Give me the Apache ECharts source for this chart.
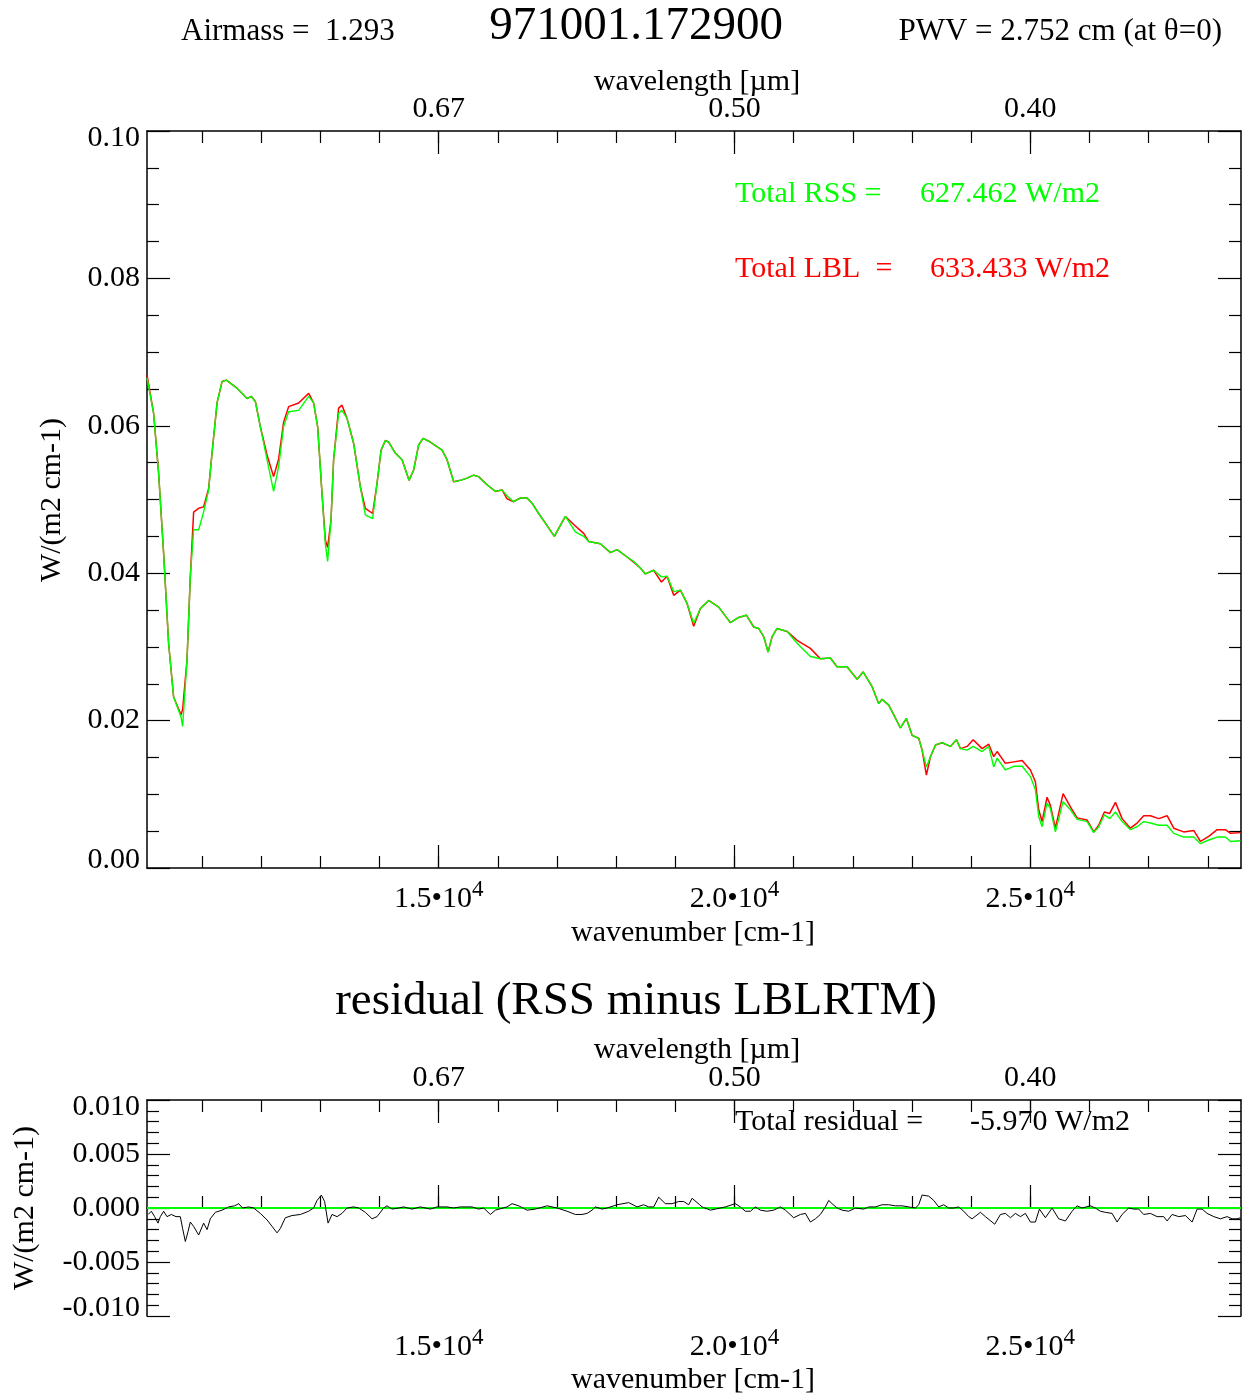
<!DOCTYPE html>
<html>
<head>
<meta charset="utf-8">
<script src="https://cdn.jsdelivr.net/npm/echarts@6/dist/echarts.min.js"></script>
<style>
html,body{margin:0;padding:0;background:#fff;}
#chart{width:1243px;height:1395px;}
</style>
</head>
<body>
<div id="chart"></div>
<script>
// ---------- DATA ----------
const wavenumber = [10070,10182,10266,10351,10435,10520,10645,10672,10746,10802,10858,10943,11027,11112,11169,11254,11338,11411,11592,11761,11833,11901,11985,12099,12210,12295,12379,12464,12633,12802,12886,12954,13028,13084,13123,13180,13224,13309,13366,13451,13563,13676,13760,13884,13958,14026,14098,14154,14267,14381,14499,14577,14661,14736,14859,15057,15141,15253,15366,15479,15591,15675,15817,15958,16071,16155,16267,16380,16494,16578,16690,16803,16955,17056,17141,17310,17450,17535,17733,17902,18015,18184,18295,18408,18493,18634,18764,18860,18972,19085,19198,19310,19423,19563,19732,19930,20070,20200,20324,20408,20493,20567,20635,20719,20888,21057,21282,21451,21620,21733,21902,22071,22173,22325,22437,22494,22606,22690,22804,22905,23001,23113,23170,23243,23311,23396,23509,23649,23751,23818,23931,24033,24185,24297,24381,24438,24578,24719,24861,25001,25085,25141,25198,25282,25338,25423,25553,25677,25790,25959,26071,26155,26251,26341,26438,26551,26691,26804,26916,27029,27170,27311,27423,27592,27761,27875,28015,28157,28297,28382,28550];
const rssValues = [0.0665,0.0617,0.0536,0.0427,0.0305,0.0232,0.0205,0.0192,0.0282,0.0395,0.0459,0.0459,0.0483,0.0513,0.0563,0.0631,0.0660,0.0662,0.0651,0.0637,0.0640,0.0633,0.0599,0.0554,0.0511,0.0545,0.0599,0.0619,0.0621,0.0640,0.0631,0.0599,0.0508,0.0440,0.0416,0.0472,0.0554,0.0617,0.0621,0.0610,0.0576,0.0517,0.0479,0.0474,0.0522,0.0567,0.0580,0.0578,0.0563,0.0554,0.0526,0.0540,0.0574,0.0583,0.0578,0.0567,0.0554,0.0524,0.0526,0.0529,0.0533,0.0531,0.0520,0.0511,0.0513,0.0505,0.0497,0.0502,0.0502,0.0495,0.0481,0.0468,0.0450,0.0465,0.0477,0.0456,0.0450,0.0443,0.0440,0.0428,0.0432,0.0422,0.0416,0.0407,0.0399,0.0404,0.0395,0.0396,0.0375,0.0377,0.0359,0.0332,0.0352,0.0363,0.0354,0.0333,0.0340,0.0343,0.0327,0.0325,0.0314,0.0293,0.0314,0.0325,0.0321,0.0305,0.0287,0.0284,0.0285,0.0273,0.0273,0.0256,0.0266,0.0246,0.0223,0.0229,0.0221,0.0208,0.0190,0.0203,0.0180,0.0176,0.0160,0.0137,0.0151,0.0167,0.0170,0.0165,0.0174,0.0162,0.0160,0.0165,0.0158,0.0165,0.0137,0.0149,0.0133,0.0138,0.0138,0.0124,0.0106,0.0070,0.0056,0.0088,0.0081,0.0049,0.0090,0.0079,0.0066,0.0063,0.0048,0.0056,0.0072,0.0067,0.0076,0.0063,0.0052,0.0056,0.0063,0.0061,0.0058,0.0058,0.0047,0.0042,0.0042,0.0033,0.0038,0.0042,0.0042,0.0036,0.0037];
const lblValues = [0.0669,0.0617,0.0536,0.0427,0.0305,0.0232,0.0208,0.0215,0.0282,0.0395,0.0483,0.0488,0.0490,0.0515,0.0563,0.0631,0.0660,0.0662,0.0651,0.0637,0.0640,0.0633,0.0599,0.0560,0.0531,0.0555,0.0605,0.0626,0.0631,0.0644,0.0631,0.0599,0.0508,0.0445,0.0435,0.0472,0.0554,0.0624,0.0628,0.0610,0.0576,0.0517,0.0488,0.0481,0.0522,0.0567,0.0580,0.0578,0.0563,0.0554,0.0526,0.0540,0.0574,0.0583,0.0578,0.0567,0.0554,0.0524,0.0526,0.0529,0.0533,0.0531,0.0520,0.0511,0.0513,0.0501,0.0497,0.0502,0.0502,0.0495,0.0481,0.0468,0.0450,0.0465,0.0477,0.0464,0.0454,0.0443,0.0440,0.0428,0.0432,0.0422,0.0415,0.0407,0.0399,0.0404,0.0388,0.0396,0.0370,0.0377,0.0359,0.0328,0.0352,0.0363,0.0354,0.0333,0.0340,0.0343,0.0327,0.0325,0.0314,0.0293,0.0314,0.0325,0.0321,0.0309,0.0298,0.0284,0.0285,0.0273,0.0273,0.0256,0.0266,0.0246,0.0223,0.0229,0.0221,0.0208,0.0190,0.0203,0.0180,0.0176,0.0160,0.0126,0.0151,0.0167,0.0170,0.0165,0.0174,0.0162,0.0165,0.0174,0.0162,0.0168,0.0151,0.0158,0.0142,0.0144,0.0146,0.0133,0.0117,0.0079,0.0063,0.0096,0.0085,0.0054,0.0101,0.0083,0.0068,0.0065,0.0049,0.0058,0.0076,0.0074,0.0089,0.0067,0.0054,0.0061,0.0071,0.0071,0.0067,0.0071,0.0054,0.0049,0.0051,0.0036,0.0043,0.0052,0.0052,0.0047,0.0048];
const residualWavenumber = [10090,10143,10199,10256,10295,10351,10408,10481,10560,10633,10672,10718,10763,10802,10858,10943,11027,11085,11140,11225,11338,11450,11551,11619,11687,11788,11873,11985,12099,12183,12268,12323,12408,12521,12662,12802,12886,12944,13017,13072,13130,13197,13282,13366,13451,13563,13647,13760,13874,13958,14070,14127,14212,14323,14408,14550,14690,14859,14972,15141,15253,15366,15564,15675,15760,15873,15958,16155,16240,16352,16494,16634,16832,17001,17170,17310,17423,17508,17592,17648,17761,17846,18015,18211,18353,18464,18549,18634,18718,18831,18944,19056,19141,19225,19283,19411,19452,19592,19677,19845,20014,20099,20183,20268,20352,20437,20550,20662,20775,20860,21000,21113,21198,21282,21367,21451,21536,21592,21649,21733,21818,21930,22043,22183,22268,22381,22494,22606,22719,22832,22944,23057,23113,23170,23282,23367,23451,23536,23620,23705,23789,23874,23958,24015,24156,24240,24398,24494,24578,24663,24747,24832,24916,25001,25085,25153,25254,25367,25479,25592,25705,25789,25874,26015,26099,26184,26268,26381,26466,26550,26663,26747,26832,26916,27029,27142,27254,27311,27396,27508,27621,27734,27818,27903,27987,28100,28213,28325,28410,28494,28550];
const residualValues = [-0.0006,-0.0003,-0.0008,-0.0014,-0.0008,-0.0003,-0.0008,-0.0006,-0.0008,-0.0008,-0.0019,-0.0031,-0.0022,-0.0013,-0.0017,-0.0025,-0.0014,-0.0020,-0.0010,-0.0004,-0.0002,0.0001,0.0002,0.0004,0.0000,0.0001,0.0000,-0.0005,-0.0011,-0.0017,-0.0023,-0.0019,-0.0009,-0.0007,-0.0006,-0.0003,0.0000,0.0007,0.0012,0.0006,-0.0014,-0.0006,-0.0008,-0.0005,0.0000,0.0001,0.0000,-0.0004,-0.0010,-0.0008,0.0000,0.0002,-0.0001,0.0000,0.0001,-0.0001,0.0001,-0.0001,0.0001,0.0001,0.0000,0.0001,0.0001,-0.0001,0.0000,-0.0006,-0.0002,0.0001,0.0004,0.0002,-0.0002,-0.0001,0.0002,0.0000,-0.0003,-0.0006,-0.0006,-0.0005,-0.0002,0.0001,-0.0001,0.0000,0.0003,0.0005,0.0001,0.0003,0.0001,0.0001,0.0010,0.0004,0.0004,0.0006,0.0006,0.0003,0.0009,0.0003,0.0001,-0.0002,-0.0001,0.0001,0.0004,0.0001,-0.0003,-0.0003,0.0001,-0.0002,-0.0003,-0.0002,0.0001,-0.0002,-0.0009,-0.0006,-0.0005,-0.0013,-0.0010,-0.0006,0.0001,0.0007,0.0004,0.0000,-0.0002,-0.0003,0.0000,-0.0001,0.0001,0.0001,0.0003,0.0003,0.0002,0.0002,0.0001,0.0000,0.0003,0.0012,0.0011,0.0007,0.0001,0.0003,0.0000,0.0000,0.0001,-0.0003,-0.0008,-0.0010,-0.0004,-0.0008,-0.0015,-0.0006,-0.0005,-0.0009,-0.0005,-0.0008,-0.0005,-0.0013,-0.0013,-0.0001,-0.0009,0.0000,-0.0010,-0.0012,-0.0003,0.0002,0.0000,0.0002,0.0000,-0.0003,-0.0004,-0.0005,-0.0013,-0.0006,0.0000,-0.0001,-0.0001,-0.0006,-0.0005,-0.0008,-0.0008,-0.0012,-0.0006,-0.0008,-0.0007,-0.0013,-0.0001,-0.0001,-0.0005,-0.0008,-0.0010,-0.0008,-0.0010,-0.0010,-0.0009];
const minorTickValues = [11000,12000,13000,14000,15000,16000,17000,18000,19000,20000,21000,22000,23000,24000,25000,26000,27000,28000];
const majorTickValues = [15000,20000,25000];
const xRange = [10070, 28560];
const totalRSS = '627.462 W/m2';
const totalLBL = '633.433 W/m2';
const totalResidual = '-5.970 W/m2';

// ---------- CHART ----------
const FONT = 'Liberation Serif';
const chart = echarts.init(document.getElementById('chart'), null, {renderer: 'canvas'});

const axisLineStyle = {show: true, lineStyle: {color: '#000', width: 1.5}};

function xAxesFor(gridIndex) {
  const base = {gridIndex, type: 'value', min: xRange[0], max: xRange[1], splitLine: {show: false}};
  return [
    Object.assign({}, base, {
      position: 'bottom', axisLine: axisLineStyle,
      axisTick: {show: true, inside: true, length: 12, customValues: minorTickValues, lineStyle: {color: '#000', width: 1.2}},
      axisLabel: {
        show: true, customValues: majorTickValues, margin: 10,
        formatter: v => '{m|' + (v / 1e4).toFixed(1) + '•10}{s|4}',
        rich: {
          m: {fontFamily: FONT, fontSize: 30, color: '#000'},
          s: {fontFamily: FONT, fontSize: 23, color: '#000', padding: [0, 0, 20, 0]}
        }
      }
    }),
    Object.assign({}, base, {
      position: 'bottom', axisLine: {show: false},
      axisTick: {show: true, inside: true, length: 23, customValues: majorTickValues, lineStyle: {color: '#000', width: 1.2}},
      axisLabel: {show: false}
    }),
    Object.assign({}, base, {
      position: 'top', axisLine: axisLineStyle,
      axisTick: {show: true, inside: true, length: 12, customValues: minorTickValues, lineStyle: {color: '#000', width: 1.2}},
      axisLabel: {
        show: true, customValues: majorTickValues, margin: 7,
        fontFamily: FONT, fontSize: 30, color: '#000',
        formatter: v => (1e4 / v).toFixed(2)
      }
    }),
    Object.assign({}, base, {
      position: 'top', axisLine: {show: false},
      axisTick: {show: true, inside: true, length: 23, customValues: majorTickValues, lineStyle: {color: '#000', width: 1.2}},
      axisLabel: {show: false}
    })
  ];
}

function yAxesFor(gridIndex, min, max, interval, minorSplit, digits) {
  const rich = {
    t: {fontFamily: FONT, fontSize: 30, color: '#000', padding: [14, 0, 0, 0]},
    b: {fontFamily: FONT, fontSize: 30, color: '#000', padding: [0, 0, 16, 0]}
  };
  const base = {
    gridIndex, type: 'value', min, max, interval,
    splitLine: {show: false}, minorSplitLine: {show: false},
    axisLine: axisLineStyle,
    axisTick: {show: true, inside: true, length: 23, lineStyle: {color: '#000', width: 1.2}},
    minorTick: {show: true, splitNumber: minorSplit, length: 12, lineStyle: {color: '#000', width: 1.2}}
  };
  return [
    Object.assign({}, base, {
      position: 'left',
      axisLabel: {
        show: true, margin: 7, fontFamily: FONT, fontSize: 30, color: '#000', rich,
        formatter: v => {
          const s = v.toFixed(digits);
          if (Math.abs(v - max) < 1e-9) return '{t|' + s + '}';
          if (Math.abs(v - min) < 1e-9) return '{b|' + s + '}';
          return s;
        }
      }
    }),
    Object.assign({}, base, {position: 'right', axisLabel: {show: false}})
  ];
}

const grids = [
  {left: 147, right: 2, top: 131, height: 737},
  {left: 147, right: 2, top: 1100, height: 216}
];

const txt = (text, x, y, size, color, align, extra) => Object.assign({
  type: 'text', x, y, silent: true,
  style: {text, font: size + 'px "' + FONT + '"', fill: color || '#000', textAlign: align || 'left', textVerticalAlign: 'middle'}
}, extra || {});

const option = {
  animation: false,
  backgroundColor: '#fff',
  grid: grids,
  xAxis: xAxesFor(0).concat(xAxesFor(1)),
  yAxis: yAxesFor(0, 0, 0.1, 0.02, 4, 2).concat(yAxesFor(1, -0.01, 0.01, 0.005, 5, 3)),
  series: [
    {
      name: 'Total LBL', type: 'line', xAxisIndex: 0, yAxisIndex: 0, showSymbol: false, symbol: 'none',
      data: wavenumber.map((w, i) => [w, lblValues[i]]),
      lineStyle: {color: '#ff0000', width: 1.5}, z: 2
    },
    {
      name: 'Total RSS', type: 'line', xAxisIndex: 0, yAxisIndex: 0, showSymbol: false, symbol: 'none',
      data: wavenumber.map((w, i) => [w, rssValues[i]]),
      lineStyle: {color: '#00ff00', width: 1.4}, z: 3
    },
    {
      name: 'residual', type: 'line', xAxisIndex: 4, yAxisIndex: 2, showSymbol: false, symbol: 'none',
      data: residualWavenumber.map((w, i) => [w, residualValues[i]]),
      lineStyle: {color: '#000', width: 1}, z: 3,
      markLine: {
        silent: true, symbol: 'none', label: {show: false},
        lineStyle: {color: '#00ff00', width: 2, type: 'solid'},
        data: [{yAxis: 0}], z: 2
      }
    }
  ],
  graphic: [
    txt('Airmass =  1.293', 181, 32, 31),
    txt('971001.172900', 636, 27, 47, '#000', 'center'),
    txt('PWV = 2.752 cm (at \u03b8=0)', 1222, 32, 31, '#000', 'right'),
    txt('wavelength [\u00b5m]', 697, 82, 30, '#000', 'center'),
    txt('Total RSS =', 735, 194, 30, '#00ff00'),
    txt(totalRSS, 920, 194, 30, '#00ff00'),
    txt('Total LBL  =', 735, 269, 30, '#ff0000'),
    txt(totalLBL, 930, 269, 30, '#ff0000'),
    txt('W/(m2 cm-1)', 52, 500, 30, '#000', 'center', {rotation: Math.PI / 2}),
    txt('wavenumber [cm-1]', 693, 933, 30, '#000', 'center'),
    txt('residual (RSS minus LBLRTM)', 636, 1002, 47, '#000', 'center'),
    txt('wavelength [\u00b5m]', 697, 1050, 30, '#000', 'center'),
    txt('Total residual =', 735, 1122, 30, '#000'),
    txt(totalResidual, 970, 1122, 30, '#000'),
    txt('W/(m2 cm-1)', 25, 1208, 30, '#000', 'center', {rotation: Math.PI / 2}),
    txt('wavenumber [cm-1]', 693, 1380, 30, '#000', 'center')
  ]
};
chart.setOption(option);
</script>
</body>
</html>
